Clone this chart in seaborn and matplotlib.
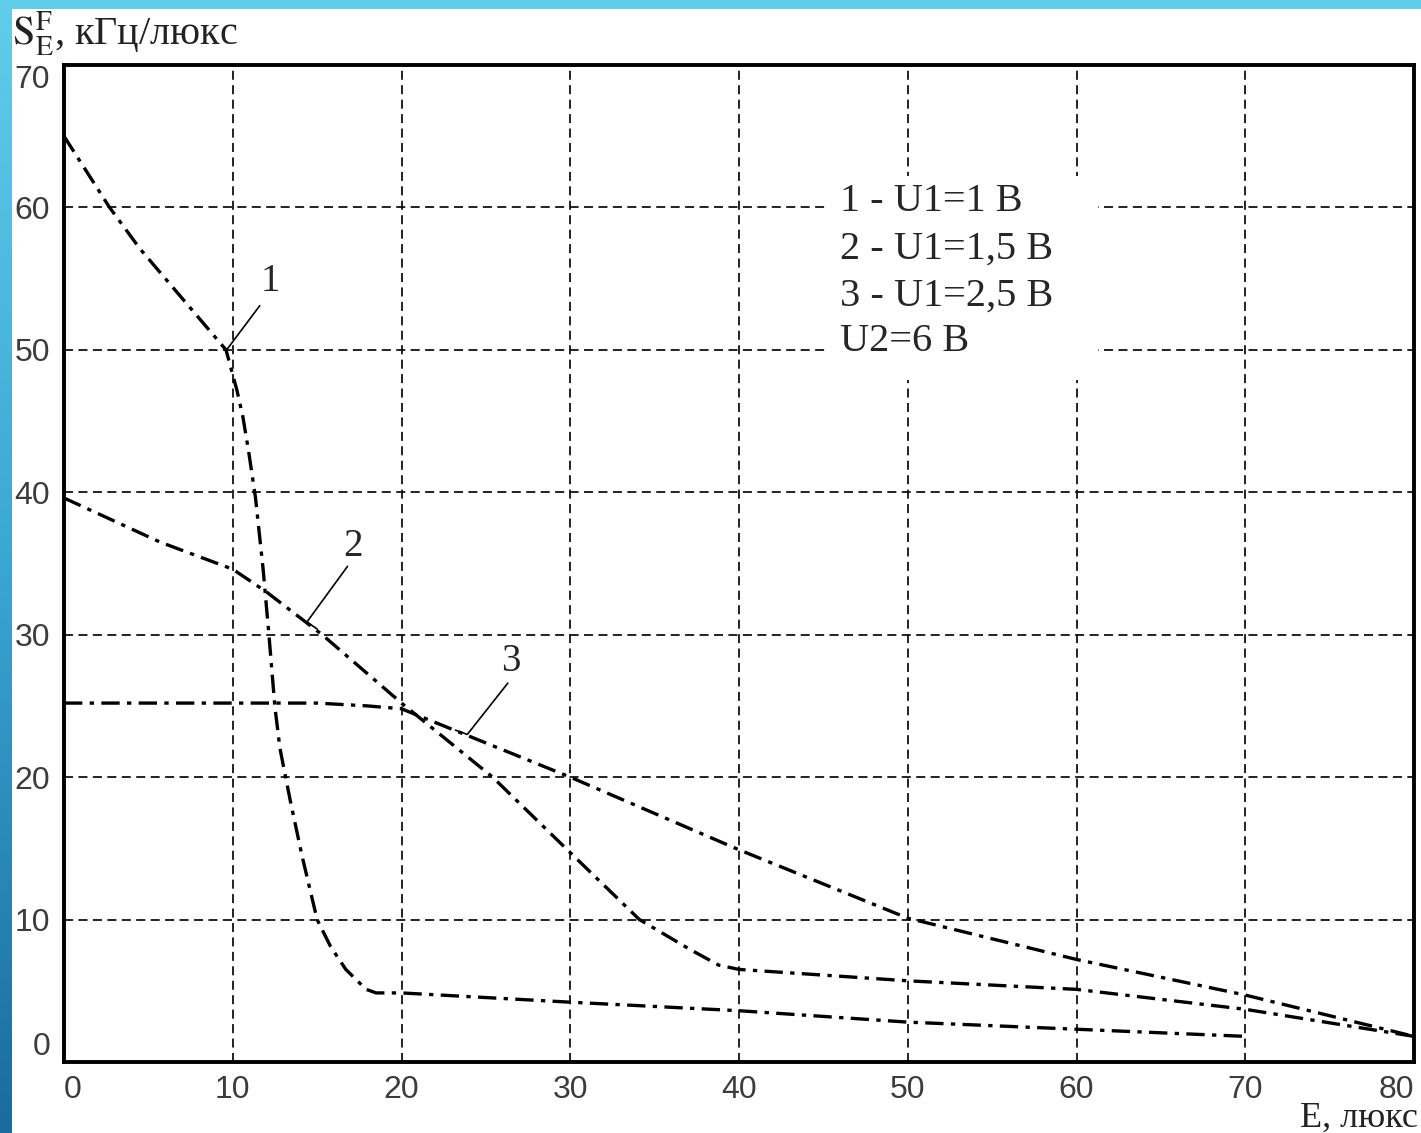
import numpy as np
import matplotlib
matplotlib.use("Agg")
import matplotlib.pyplot as plt
from matplotlib.patches import Rectangle
from matplotlib.colors import LinearSegmentedColormap
import seaborn as sns

# данные
e1 = [0, 2.7, 4.5, 9.6, 10.24, 10.6, 10.95, 11.35, 11.8, 12.15, 12.5, 12.8, 13.4, 14.1, 15.0, 15.8, 16.7, 17.9, 18.5, 20, 30, 40, 50, 60, 70]
s1 = [65.0, 60.0, 57.1, 50.0, 47.2, 45.3, 42.8, 39.6, 34.6, 29.9, 24.9, 22.0, 18.4, 14.5, 10.0, 8.1, 6.5, 5.1, 4.85, 4.85, 4.2, 3.6, 2.8, 2.3, 1.8]

e2 = [0, 5.7, 10, 12, 15.3, 20, 25.4, 30, 34.1, 37.1, 38.8, 40, 50, 60, 70, 80]
s2 = [39.6, 36.5, 34.6, 33.0, 30.0, 25.2, 20.0, 14.7, 10.0, 7.9, 6.8, 6.5, 5.7, 5.1, 3.7, 1.8]

e3 = [0, 10, 15, 18, 20, 30, 40, 50, 60, 70, 80]
s3 = [25.2, 25.2, 25.2, 25.0, 24.8, 20.0, 14.9, 10.1, 7.2, 4.7, 1.8]

curve_labels = ["1", "2", "3"]
legend_lines = ["1 - U1=1 B", "2 - U1=1,5 B", "3 - U1=2,5 B", "U2=6 B"]

sns.set_style("white")
plt.rcParams["font.family"] = ["Liberation Sans", "DejaVu Sans"]
plt.rcParams["mathtext.fontset"] = "stix"
serif = ["Liberation Serif", "DejaVu Serif"]

fig = plt.figure(figsize=(14.21, 11.33), dpi=100)

# синяя рамка слайда
bg = fig.add_axes([0, 0, 1, 1], zorder=-10)
cmap = LinearSegmentedColormap.from_list("slide", ["#1a6b9f", "#3aa6d3", "#60cdeb"])
bg.imshow(np.linspace(0, 1, 256).reshape(-1, 1), extent=[0, 1, 0, 1], origin="lower",
          aspect="auto", cmap=cmap)
bg.add_patch(Rectangle((12 / 1421, 0), 1 - 12 / 1421, 1 - 9 / 1133,
                       transform=bg.transAxes, facecolor="white", edgecolor="none"))
bg.set_xlim(0, 1)
bg.set_ylim(0, 1)
bg.axis("off")

ax = fig.add_axes([64 / 1421, 1 - 1062 / 1133, 1350 / 1421, 997 / 1133])
ax.set_facecolor("white")

dash_dot = (0, (5.5, 2.2, 1.3, 2.2))
for e, s in [(e1, s1), (e2, s2), (e3, s3)]:
    sns.lineplot(x=e, y=s, ax=ax, color="black", linewidth=2.4, sort=False,
                 estimator=None, linestyle=dash_dot, zorder=3)

ax.set_xlim(0, 80)
ax.set_ylim(0, 70)
ax.set_xticks(range(0, 81, 10))
ax.set_yticks(range(0, 71, 10))
ax.set_axisbelow(True)
ax.grid(True, color="#111111", linestyle=(0, (5, 3)), linewidth=1.3)
for sp in ax.spines.values():
    sp.set_visible(True)
    sp.set_color("black")
    sp.set_linewidth(2.8)
ax.tick_params(axis="both", length=0, labelsize=23, labelcolor="#3c3c3c")
ax.tick_params(axis="x", pad=9)
ax.tick_params(axis="y", pad=10)
ax.set_xlabel("")
ax.set_ylabel("")

yt = ax.yaxis.get_major_ticks()
yt[0].label1.set_va("bottom")
yt[-1].label1.set_va("top")
xt = ax.xaxis.get_major_ticks()
xt[0].label1.set_ha("left")
xt[-1].label1.set_ha("right")

# подписи кривых и выноски
for txt, (tx, ty), pts in [
    (curve_labels[0], (12.2, 54.8), [(11.6, 53.1), (9.7, 50.1)]),
    (curve_labels[1], (17.1, 36.2), [(16.8, 34.8), (14.4, 30.9), (15.0, 30.4)]),
    (curve_labels[2], (26.5, 28.1), [(26.3, 26.6), (23.9, 23.0), (23.2, 23.3)]),
]:
    ax.text(tx, ty, txt, fontsize=28, family=serif, ha="center", va="center", zorder=4)
    px, py = zip(*pts)
    ax.plot(px, py, color="black", linewidth=1.2, zorder=4)

# легенда в белой рамке
ax.add_patch(Rectangle((45.2, 47.9), 16.1, 14.3, facecolor="white",
                       edgecolor="none", zorder=1.5))
for txt, yy in zip(legend_lines, [60.4, 57.1, 53.8, 50.6]):
    ax.text(46.0, yy, txt, fontsize=29, family=serif, ha="left", va="center", zorder=4)

fig.text(12 / 1421, 1 - 45 / 1133, r"$\mathrm{S}^{\mathrm{F}}_{\mathrm{E}}$, кГц/люкс",
         fontsize=29, family=serif, ha="left", va="baseline", color="#222222")
fig.text(1418 / 1421, 1 - 1127 / 1133, "E, люкс", fontsize=26, family=serif,
         ha="right", va="baseline", color="#222222")

fig.savefig("out.png", dpi=100)
